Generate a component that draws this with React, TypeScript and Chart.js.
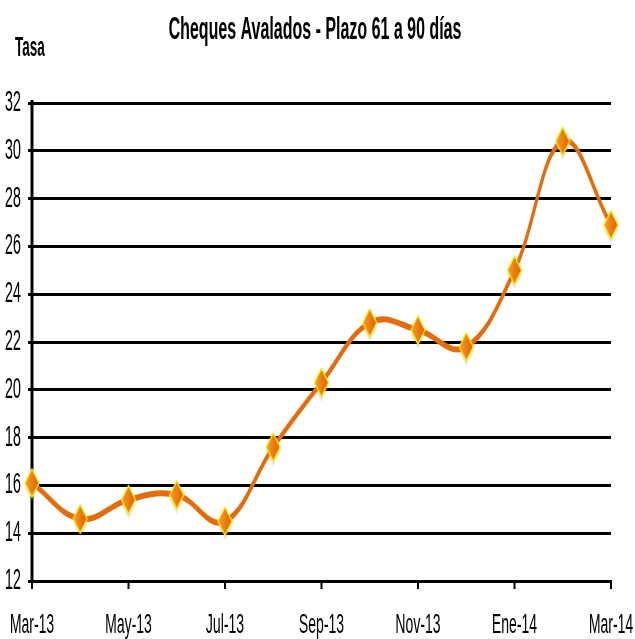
import React, { useEffect, useRef } from 'react';
import { Chart, registerables } from 'chart.js';

Chart.register(...registerables);

// ---- data ----
const months = ['Mar-13', 'Abr-13', 'May-13', 'Jun-13', 'Jul-13', 'Ago-13', 'Sep-13', 'Oct-13', 'Nov-13', 'Dic-13', 'Ene-14', 'Feb-14', 'Mar-14'];
const rates = [16.1, 14.6, 15.4, 15.6, 14.5, 17.6, 20.3, 22.8, 22.5, 21.8, 25.0, 30.4, 26.9];
const yMin = 12;
const yMax = 32;
const yStep = 2;
const titleText = 'Cheques Avalados - Plazo 61 a 90 días';
const yLabel = 'Tasa';

// ---- layout (the original picture is squeezed horizontally) ----
const W = 635;
const H = 639;
const SQUEEZE = 2;
const FONT = '"Liberation Sans", Arial, Helvetica, sans-serif';

function makeMarker(): HTMLCanvasElement {
  const c = document.createElement('canvas');
  const hw = 14;
  const hh = 14;
  c.width = 2 * hw + 4;
  c.height = 2 * hh + 12;
  const ctx = c.getContext('2d')!;
  const cx = c.width / 2;
  const cy = c.height / 2;
  const diamond = (dy: number) => {
    ctx.beginPath();
    ctx.moveTo(cx, cy - hh + dy);
    ctx.lineTo(cx + hw, cy + dy);
    ctx.lineTo(cx, cy + hh + dy);
    ctx.lineTo(cx - hw, cy + dy);
    ctx.closePath();
  };
  // faint shadow
  diamond(5);
  ctx.fillStyle = 'rgba(150,150,110,0.22)';
  ctx.fill();
  // body
  diamond(0);
  const g = ctx.createLinearGradient(cx - hw, 0, cx + hw, 0);
  g.addColorStop(0, '#F5A035');
  g.addColorStop(0.5, '#EC7E12');
  g.addColorStop(1, '#D8640A');
  ctx.fillStyle = g;
  ctx.fill();
  ctx.lineWidth = 2;
  ctx.strokeStyle = '#FFE800';
  ctx.stroke();
  return c;
}

export default function App() {
  const ref = useRef<HTMLCanvasElement>(null);

  useEffect(() => {
    document.body.style.margin = '0';
    const canvas = ref.current!;
    canvas.width = W * SQUEEZE;
    canvas.height = H;
    const marker = makeMarker();

    const textPlugin = {
      id: 'texts',
      afterDraw(chart: any) {
        const ctx = chart.ctx as CanvasRenderingContext2D;
        ctx.save();
        ctx.fillStyle = '#000';
        ctx.textBaseline = 'middle';
        ctx.font = `bold 32px ${FONT}`;
        ctx.textAlign = 'center';
        ctx.fillText(titleText, 630, 30);
        ctx.font = `bold 27px ${FONT}`;
        ctx.textAlign = 'left';
        ctx.fillText(yLabel, 30, 49);
        ctx.restore();
      },
    };

    const chart = new Chart(canvas, {
      type: 'line',
      data: {
        datasets: [
          {
            data: rates.map((v, i) => ({ x: i, y: v })),
            borderColor: '#E46C0A',
            borderWidth: 6,
            tension: 0.4,
            pointStyle: marker as any,
            pointRadius: 14,
            pointHoverRadius: 14,
            clip: false as any,
          },
        ],
      },
      options: {
        responsive: false,
        animation: false,
        devicePixelRatio: 1,
        layout: { padding: { top: 103, right: 48, left: 0, bottom: 0 } },
        plugins: {
          legend: { display: false },
          tooltip: { enabled: false },
          title: { display: false },
        },
        scales: {
          x: {
            type: 'linear',
            min: 0,
            max: months.length - 1,
            ticks: {
              stepSize: 2,
              autoSkip: false,
              maxRotation: 0,
              padding: 19,
              color: '#000',
              font: { family: FONT, size: 28 },
              callback: (v: any) => months[v] ?? '',
            },
            grid: { drawOnChartArea: false, drawTicks: true, tickLength: 8, lineWidth: 4, color: '#000' },
            border: { display: true, color: '#000', width: 3 },
            afterFit: (s: any) => {
              s.height = 58;
              s.paddingLeft = 0;
              s.paddingRight = 0;
            },
          },
          y: {
            min: yMin,
            max: yMax,
            ticks: {
              stepSize: yStep,
              padding: 14,
              color: '#000',
              font: { family: FONT, size: 29 },
            },
            grid: { color: '#000', lineWidth: 3, tickLength: 8 },
            border: { display: true, color: '#000', width: 6 },
            afterFit: (s: any) => {
              s.width = 64;
              s.paddingTop = 0;
              s.paddingBottom = 0;
            },
          },
        },
      },
      plugins: [textPlugin],
    });
    return () => chart.destroy();
  }, []);

  return (
    <canvas
      ref={ref}
      width={W * SQUEEZE}
      height={H}
      style={{ width: `${W}px`, height: `${H}px`, display: 'block' }}
    />
  );
}
